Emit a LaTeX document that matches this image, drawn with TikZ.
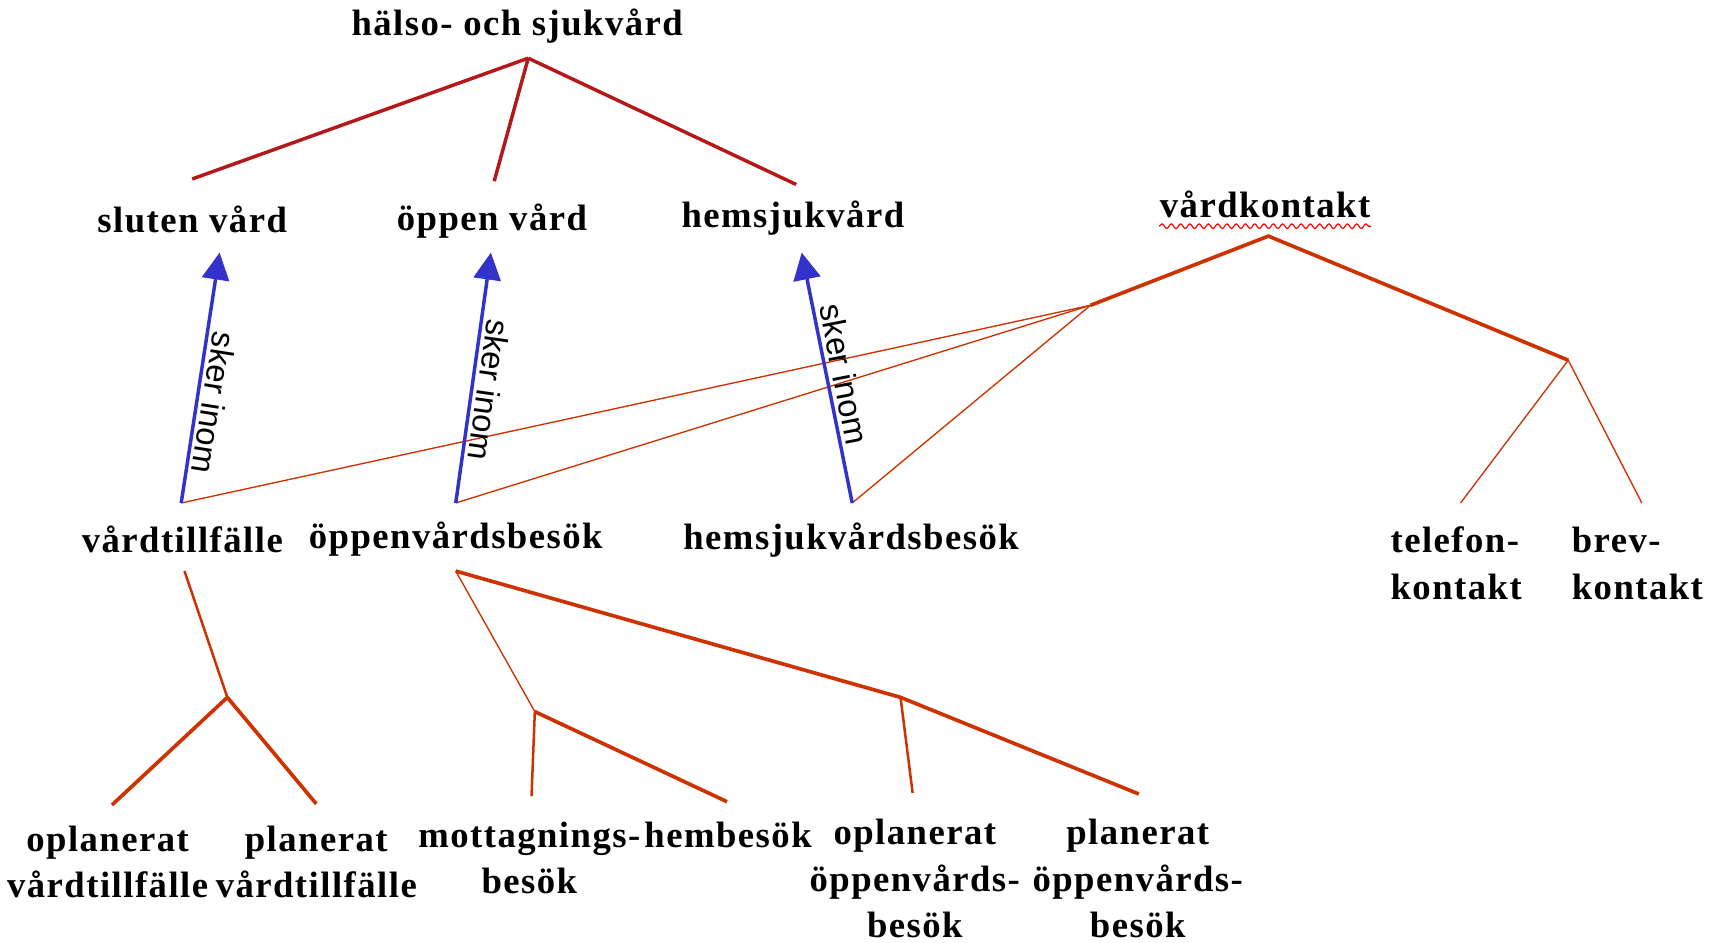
\documentclass[tikz,border=0pt]{standalone}
\usepackage{fontspec}
\setmainfont{Liberation Serif}[LetterSpace=4]
\newfontfamily\skerfont{Liberation Sans}
\usepackage{tikz}
\usetikzlibrary{arrows.meta,decorations.pathmorphing}
\definecolor{topred}{RGB}{180,24,24}
\definecolor{subred}{RGB}{204,51,0}
\definecolor{pilblue}{RGB}{51,51,204}
\tikzset{
  term/.style={font=\fontsize{9.5}{12}\selectfont\bfseries, inner sep=0pt, align=center},
  toplink/.style={draw=topred, line width=0.9pt},
  sublink/.style={draw=subred, line width=0.95pt},
  midlink/.style={draw=subred, line width=0.65pt},
  thinlink/.style={draw=subred, line width=0.35pt},
  within/.style={draw=pilblue, line width=0.9pt, -{Triangle[length=7pt,width=7pt]}},
  withinlbl/.style={font=\skerfont\fontsize{8.5}{10}\selectfont, inner sep=1pt, anchor=south}
}

\begin{document}
\begin{tikzpicture}[x=0.01cm, y=-0.01cm]
  \useasboundingbox (0,0) rectangle (1568,858);

  \node[term] (hs) at (471,24) {hälso- och sjukvård};
  \node[term] (sv) at (175,200) {sluten vård};
  \node[term] (ov) at (448,201) {öppen vård};
  \node[term] (hv) at (722,199) {hemsjukvård};
  \node[term] (vk) at (1152,186) {vårdkontakt};
  \node[term] (vt) at (166,491) {vårdtillfälle};
  \node[term] (ob) at (415,491) {öppenvårdsbesök};
  \node[term] (hb) at (775,492) {hemsjukvårdsbesök};
  \node[term, align=left] (tk) at (1326,513) {telefon-\\kontakt};
  \node[term, align=left] (bk) at (1491,513) {brev-\\kontakt};
  \node[term] (ovt) at (98,785) {oplanerat\\vårdtillfälle};
  \node[term] (pvt) at (288,785) {planerat\\vårdtillfälle};
  \node[term] (mb) at (482,781) {mottagnings-\\besök};
  \node[term] (hmb) at (663,760) {hembesök};
  \node[term] (oob) at (833,800) {oplanerat\\öppenvårds-\\besök};
  \node[term] (pob) at (1036,800) {planerat\\öppenvårds-\\besök};

  \coordinate (hs-b) at (481,53);
  \coordinate (sv-t) at (175,163);
  \coordinate (ov-t) at (450,165);
  \coordinate (hv-t) at (725,168);
  \coordinate (sv-b) at (200,230);
  \coordinate (ov-b) at (447,230);
  \coordinate (hv-b) at (730,230);
  \coordinate (vk-b) at (1155,215);
  \coordinate (vk-l) at (993,278);
  \coordinate (vk-r) at (1428,328);
  \coordinate (vt-t) at (165,458);
  \coordinate (ob-t) at (415,458);
  \coordinate (hb-t) at (776,458);
  \coordinate (tk-t) at (1330,458);
  \coordinate (bk-t) at (1495,458);
  \coordinate (vt-b) at (168,520);
  \coordinate (vt-j) at (207,635);
  \coordinate (ovt-t) at (102,733);
  \coordinate (pvt-t) at (288,732);
  \coordinate (ob-b) at (415,520);
  \coordinate (mb-j) at (487,648);
  \coordinate (oob-j) at (820,635);
  \coordinate (mb-t) at (484,725);
  \coordinate (hmb-t) at (662,730);
  \coordinate (oob-t) at (831,722);
  \coordinate (pob-t) at (1037,723);

  \draw[toplink] (hs-b) -- (sv-t);
  \draw[toplink] (hs-b) -- (ov-t);
  \draw[toplink] (hs-b) -- (hv-t);

  \draw[sublink] (vk-l) -- (vk-b) -- (vk-r);
  \draw[thinlink] (vk-l) -- (vt-t);
  \draw[thinlink] (vk-l) -- (ob-t);
  \draw[thinlink] (vk-l) -- (hb-t);
  \draw[thinlink] (vk-r) -- (tk-t);
  \draw[thinlink] (vk-r) -- (bk-t);
  \draw[red, line width=0.3pt, decorate, decoration={snake, amplitude=0.6pt, segment length=2.4pt}]
    ([yshift=-2pt]vk.south west) -- ([yshift=-2pt]vk.south east);

  \draw[within] (vt-t) -- node[withinlbl, pos=0.41, rotate=-99] {sker inom} (sv-b);
  \draw[within] (ob-t) -- node[withinlbl, pos=0.46, rotate=-98] {sker inom} (ov-b);
  \draw[within] (hb-t) -- node[withinlbl, pos=0.50, rotate=-79] {sker inom} (hv-b);

  \draw[midlink] (vt-b) -- (vt-j);
  \draw[sublink] (vt-j) -- (ovt-t);
  \draw[sublink] (vt-j) -- (pvt-t);

  \draw[sublink] (ob-b) -- (oob-j) -- (pob-t);
  \draw[thinlink] (ob-b) -- (mb-j);
  \draw[midlink] (mb-j) -- (mb-t);
  \draw[sublink] (mb-j) -- (hmb-t);
  \draw[midlink] (oob-j) -- (oob-t);
\end{tikzpicture}
\end{document}
